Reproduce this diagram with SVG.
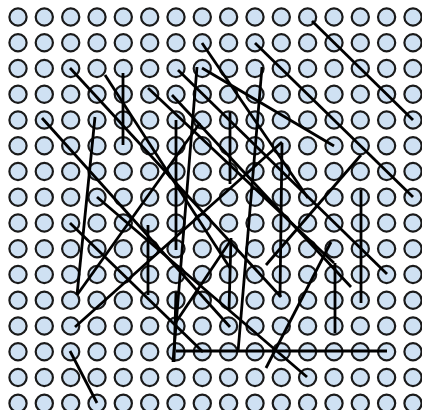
<svg xmlns="http://www.w3.org/2000/svg" width="422" height="410" viewBox="0 0 422 410">
<style>
.n circle{fill:#cfe1f3;stroke:#1a1a1a;stroke-width:2.2}
.e line{stroke:#000;stroke-width:2.8;stroke-linecap:butt}
</style>
<rect width="422" height="410" fill="#fff"/>
<g class="n">
<g id="r0c0"><circle cx="18" cy="17" r="8.6"/></g><g id="r0c1"><circle cx="44.3" cy="17" r="8.6"/></g><g id="r0c2"><circle cx="70.7" cy="17" r="8.6"/></g><g id="r0c3"><circle cx="97" cy="17" r="8.6"/></g><g id="r0c4"><circle cx="123.3" cy="17" r="8.6"/></g><g id="r0c5"><circle cx="149.7" cy="17" r="8.6"/></g><g id="r0c6"><circle cx="176" cy="17" r="8.6"/></g><g id="r0c7"><circle cx="202.3" cy="17" r="8.6"/></g><g id="r0c8"><circle cx="228.6" cy="17" r="8.6"/></g><g id="r0c9"><circle cx="255" cy="17" r="8.6"/></g><g id="r0c10"><circle cx="281.3" cy="17" r="8.6"/></g><g id="r0c11"><circle cx="307.6" cy="17" r="8.6"/></g><g id="r0c12"><circle cx="334" cy="17" r="8.6"/></g><g id="r0c13"><circle cx="360.3" cy="17" r="8.6"/></g><g id="r0c14"><circle cx="386.6" cy="17" r="8.6"/></g><g id="r0c15"><circle cx="413" cy="17" r="8.6"/></g>
<g id="r1c0"><circle cx="18" cy="42.75" r="8.6"/></g><g id="r1c1"><circle cx="44.3" cy="42.75" r="8.6"/></g><g id="r1c2"><circle cx="70.7" cy="42.75" r="8.6"/></g><g id="r1c3"><circle cx="97" cy="42.75" r="8.6"/></g><g id="r1c4"><circle cx="123.3" cy="42.75" r="8.6"/></g><g id="r1c5"><circle cx="149.7" cy="42.75" r="8.6"/></g><g id="r1c6"><circle cx="176" cy="42.75" r="8.6"/></g><g id="r1c7"><circle cx="202.3" cy="42.75" r="8.6"/></g><g id="r1c8"><circle cx="228.6" cy="42.75" r="8.6"/></g><g id="r1c9"><circle cx="255" cy="42.75" r="8.6"/></g><g id="r1c10"><circle cx="281.3" cy="42.75" r="8.6"/></g><g id="r1c11"><circle cx="307.6" cy="42.75" r="8.6"/></g><g id="r1c12"><circle cx="334" cy="42.75" r="8.6"/></g><g id="r1c13"><circle cx="360.3" cy="42.75" r="8.6"/></g><g id="r1c14"><circle cx="386.6" cy="42.75" r="8.6"/></g><g id="r1c15"><circle cx="413" cy="42.75" r="8.6"/></g>
<g id="r2c0"><circle cx="18" cy="68.5" r="8.6"/></g><g id="r2c1"><circle cx="44.3" cy="68.5" r="8.6"/></g><g id="r2c2"><circle cx="70.7" cy="68.5" r="8.6"/></g><g id="r2c3"><circle cx="97" cy="68.5" r="8.6"/></g><g id="r2c4"><circle cx="123.3" cy="68.5" r="8.6"/></g><g id="r2c5"><circle cx="149.7" cy="68.5" r="8.6"/></g><g id="r2c6"><circle cx="176" cy="68.5" r="8.6"/></g><g id="r2c7"><circle cx="202.3" cy="68.5" r="8.6"/></g><g id="r2c8"><circle cx="228.6" cy="68.5" r="8.6"/></g><g id="r2c9"><circle cx="255" cy="68.5" r="8.6"/></g><g id="r2c10"><circle cx="281.3" cy="68.5" r="8.6"/></g><g id="r2c11"><circle cx="307.6" cy="68.5" r="8.6"/></g><g id="r2c12"><circle cx="334" cy="68.5" r="8.6"/></g><g id="r2c13"><circle cx="360.3" cy="68.5" r="8.6"/></g><g id="r2c14"><circle cx="386.6" cy="68.5" r="8.6"/></g><g id="r2c15"><circle cx="413" cy="68.5" r="8.6"/></g>
<g id="r3c0"><circle cx="18" cy="94.25" r="8.6"/></g><g id="r3c1"><circle cx="44.3" cy="94.25" r="8.6"/></g><g id="r3c2"><circle cx="70.7" cy="94.25" r="8.6"/></g><g id="r3c3"><circle cx="97" cy="94.25" r="8.6"/></g><g id="r3c4"><circle cx="123.3" cy="94.25" r="8.6"/></g><g id="r3c5"><circle cx="149.7" cy="94.25" r="8.6"/></g><g id="r3c6"><circle cx="176" cy="94.25" r="8.6"/></g><g id="r3c7"><circle cx="202.3" cy="94.25" r="8.6"/></g><g id="r3c8"><circle cx="228.6" cy="94.25" r="8.6"/></g><g id="r3c9"><circle cx="255" cy="94.25" r="8.6"/></g><g id="r3c10"><circle cx="281.3" cy="94.25" r="8.6"/></g><g id="r3c11"><circle cx="307.6" cy="94.25" r="8.6"/></g><g id="r3c12"><circle cx="334" cy="94.25" r="8.6"/></g><g id="r3c13"><circle cx="360.3" cy="94.25" r="8.6"/></g><g id="r3c14"><circle cx="386.6" cy="94.25" r="8.6"/></g><g id="r3c15"><circle cx="413" cy="94.25" r="8.6"/></g>
<g id="r4c0"><circle cx="18" cy="120" r="8.6"/></g><g id="r4c1"><circle cx="44.3" cy="120" r="8.6"/></g><g id="r4c2"><circle cx="70.7" cy="120" r="8.6"/></g><g id="r4c3"><circle cx="97" cy="120" r="8.6"/></g><g id="r4c4"><circle cx="123.3" cy="120" r="8.6"/></g><g id="r4c5"><circle cx="149.7" cy="120" r="8.6"/></g><g id="r4c6"><circle cx="176" cy="120" r="8.6"/></g><g id="r4c7"><circle cx="202.3" cy="120" r="8.6"/></g><g id="r4c8"><circle cx="228.6" cy="120" r="8.6"/></g><g id="r4c9"><circle cx="255" cy="120" r="8.6"/></g><g id="r4c10"><circle cx="281.3" cy="120" r="8.6"/></g><g id="r4c11"><circle cx="307.6" cy="120" r="8.6"/></g><g id="r4c12"><circle cx="334" cy="120" r="8.6"/></g><g id="r4c13"><circle cx="360.3" cy="120" r="8.6"/></g><g id="r4c14"><circle cx="386.6" cy="120" r="8.6"/></g><g id="r4c15"><circle cx="413" cy="120" r="8.6"/></g>
<g id="r5c0"><circle cx="18" cy="145.75" r="8.6"/></g><g id="r5c1"><circle cx="44.3" cy="145.75" r="8.6"/></g><g id="r5c2"><circle cx="70.7" cy="145.75" r="8.6"/></g><g id="r5c3"><circle cx="97" cy="145.75" r="8.6"/></g><g id="r5c4"><circle cx="123.3" cy="145.75" r="8.6"/></g><g id="r5c5"><circle cx="149.7" cy="145.75" r="8.6"/></g><g id="r5c6"><circle cx="176" cy="145.75" r="8.6"/></g><g id="r5c7"><circle cx="202.3" cy="145.75" r="8.6"/></g><g id="r5c8"><circle cx="228.6" cy="145.75" r="8.6"/></g><g id="r5c9"><circle cx="255" cy="145.75" r="8.6"/></g><g id="r5c10"><circle cx="281.3" cy="145.75" r="8.6"/></g><g id="r5c11"><circle cx="307.6" cy="145.75" r="8.6"/></g><g id="r5c12"><circle cx="334" cy="145.75" r="8.6"/></g><g id="r5c13"><circle cx="360.3" cy="145.75" r="8.6"/></g><g id="r5c14"><circle cx="386.6" cy="145.75" r="8.6"/></g><g id="r5c15"><circle cx="413" cy="145.75" r="8.6"/></g>
<g id="r6c0"><circle cx="18" cy="171.5" r="8.6"/></g><g id="r6c1"><circle cx="44.3" cy="171.5" r="8.6"/></g><g id="r6c2"><circle cx="70.7" cy="171.5" r="8.6"/></g><g id="r6c3"><circle cx="97" cy="171.5" r="8.6"/></g><g id="r6c4"><circle cx="123.3" cy="171.5" r="8.6"/></g><g id="r6c5"><circle cx="149.7" cy="171.5" r="8.6"/></g><g id="r6c6"><circle cx="176" cy="171.5" r="8.6"/></g><g id="r6c7"><circle cx="202.3" cy="171.5" r="8.6"/></g><g id="r6c8"><circle cx="228.6" cy="171.5" r="8.6"/></g><g id="r6c9"><circle cx="255" cy="171.5" r="8.6"/></g><g id="r6c10"><circle cx="281.3" cy="171.5" r="8.6"/></g><g id="r6c11"><circle cx="307.6" cy="171.5" r="8.6"/></g><g id="r6c12"><circle cx="334" cy="171.5" r="8.6"/></g><g id="r6c13"><circle cx="360.3" cy="171.5" r="8.6"/></g><g id="r6c14"><circle cx="386.6" cy="171.5" r="8.6"/></g><g id="r6c15"><circle cx="413" cy="171.5" r="8.6"/></g>
<g id="r7c0"><circle cx="18" cy="197.25" r="8.6"/></g><g id="r7c1"><circle cx="44.3" cy="197.25" r="8.6"/></g><g id="r7c2"><circle cx="70.7" cy="197.25" r="8.6"/></g><g id="r7c3"><circle cx="97" cy="197.25" r="8.6"/></g><g id="r7c4"><circle cx="123.3" cy="197.25" r="8.6"/></g><g id="r7c5"><circle cx="149.7" cy="197.25" r="8.6"/></g><g id="r7c6"><circle cx="176" cy="197.25" r="8.6"/></g><g id="r7c7"><circle cx="202.3" cy="197.25" r="8.6"/></g><g id="r7c8"><circle cx="228.6" cy="197.25" r="8.6"/></g><g id="r7c9"><circle cx="255" cy="197.25" r="8.6"/></g><g id="r7c10"><circle cx="281.3" cy="197.25" r="8.6"/></g><g id="r7c11"><circle cx="307.6" cy="197.25" r="8.6"/></g><g id="r7c12"><circle cx="334" cy="197.25" r="8.6"/></g><g id="r7c13"><circle cx="360.3" cy="197.25" r="8.6"/></g><g id="r7c14"><circle cx="386.6" cy="197.25" r="8.6"/></g><g id="r7c15"><circle cx="413" cy="197.25" r="8.6"/></g>
<g id="r8c0"><circle cx="18" cy="223" r="8.6"/></g><g id="r8c1"><circle cx="44.3" cy="223" r="8.6"/></g><g id="r8c2"><circle cx="70.7" cy="223" r="8.6"/></g><g id="r8c3"><circle cx="97" cy="223" r="8.6"/></g><g id="r8c4"><circle cx="123.3" cy="223" r="8.6"/></g><g id="r8c5"><circle cx="149.7" cy="223" r="8.6"/></g><g id="r8c6"><circle cx="176" cy="223" r="8.6"/></g><g id="r8c7"><circle cx="202.3" cy="223" r="8.6"/></g><g id="r8c8"><circle cx="228.6" cy="223" r="8.6"/></g><g id="r8c9"><circle cx="255" cy="223" r="8.6"/></g><g id="r8c10"><circle cx="281.3" cy="223" r="8.6"/></g><g id="r8c11"><circle cx="307.6" cy="223" r="8.6"/></g><g id="r8c12"><circle cx="334" cy="223" r="8.6"/></g><g id="r8c13"><circle cx="360.3" cy="223" r="8.6"/></g><g id="r8c14"><circle cx="386.6" cy="223" r="8.6"/></g><g id="r8c15"><circle cx="413" cy="223" r="8.6"/></g>
<g id="r9c0"><circle cx="18" cy="248.75" r="8.6"/></g><g id="r9c1"><circle cx="44.3" cy="248.75" r="8.6"/></g><g id="r9c2"><circle cx="70.7" cy="248.75" r="8.6"/></g><g id="r9c3"><circle cx="97" cy="248.75" r="8.6"/></g><g id="r9c4"><circle cx="123.3" cy="248.75" r="8.6"/></g><g id="r9c5"><circle cx="149.7" cy="248.75" r="8.6"/></g><g id="r9c6"><circle cx="176" cy="248.75" r="8.6"/></g><g id="r9c7"><circle cx="202.3" cy="248.75" r="8.6"/></g><g id="r9c8"><circle cx="228.6" cy="248.75" r="8.6"/></g><g id="r9c9"><circle cx="255" cy="248.75" r="8.6"/></g><g id="r9c10"><circle cx="281.3" cy="248.75" r="8.6"/></g><g id="r9c11"><circle cx="307.6" cy="248.75" r="8.6"/></g><g id="r9c12"><circle cx="334" cy="248.75" r="8.6"/></g><g id="r9c13"><circle cx="360.3" cy="248.75" r="8.6"/></g><g id="r9c14"><circle cx="386.6" cy="248.75" r="8.6"/></g><g id="r9c15"><circle cx="413" cy="248.75" r="8.6"/></g>
<g id="r10c0"><circle cx="18" cy="274.5" r="8.6"/></g><g id="r10c1"><circle cx="44.3" cy="274.5" r="8.6"/></g><g id="r10c2"><circle cx="70.7" cy="274.5" r="8.6"/></g><g id="r10c3"><circle cx="97" cy="274.5" r="8.6"/></g><g id="r10c4"><circle cx="123.3" cy="274.5" r="8.6"/></g><g id="r10c5"><circle cx="149.7" cy="274.5" r="8.6"/></g><g id="r10c6"><circle cx="176" cy="274.5" r="8.6"/></g><g id="r10c7"><circle cx="202.3" cy="274.5" r="8.6"/></g><g id="r10c8"><circle cx="228.6" cy="274.5" r="8.6"/></g><g id="r10c9"><circle cx="255" cy="274.5" r="8.6"/></g><g id="r10c10"><circle cx="281.3" cy="274.5" r="8.6"/></g><g id="r10c11"><circle cx="307.6" cy="274.5" r="8.6"/></g><g id="r10c12"><circle cx="334" cy="274.5" r="8.6"/></g><g id="r10c13"><circle cx="360.3" cy="274.5" r="8.6"/></g><g id="r10c14"><circle cx="386.6" cy="274.5" r="8.6"/></g><g id="r10c15"><circle cx="413" cy="274.5" r="8.6"/></g>
<g id="r11c0"><circle cx="18" cy="300.25" r="8.6"/></g><g id="r11c1"><circle cx="44.3" cy="300.25" r="8.6"/></g><g id="r11c2"><circle cx="70.7" cy="300.25" r="8.6"/></g><g id="r11c3"><circle cx="97" cy="300.25" r="8.6"/></g><g id="r11c4"><circle cx="123.3" cy="300.25" r="8.6"/></g><g id="r11c5"><circle cx="149.7" cy="300.25" r="8.6"/></g><g id="r11c6"><circle cx="176" cy="300.25" r="8.6"/></g><g id="r11c7"><circle cx="202.3" cy="300.25" r="8.6"/></g><g id="r11c8"><circle cx="228.6" cy="300.25" r="8.6"/></g><g id="r11c9"><circle cx="255" cy="300.25" r="8.6"/></g><g id="r11c10"><circle cx="281.3" cy="300.25" r="8.6"/></g><g id="r11c11"><circle cx="307.6" cy="300.25" r="8.6"/></g><g id="r11c12"><circle cx="334" cy="300.25" r="8.6"/></g><g id="r11c13"><circle cx="360.3" cy="300.25" r="8.6"/></g><g id="r11c14"><circle cx="386.6" cy="300.25" r="8.6"/></g><g id="r11c15"><circle cx="413" cy="300.25" r="8.6"/></g>
<g id="r12c0"><circle cx="18" cy="326" r="8.6"/></g><g id="r12c1"><circle cx="44.3" cy="326" r="8.6"/></g><g id="r12c2"><circle cx="70.7" cy="326" r="8.6"/></g><g id="r12c3"><circle cx="97" cy="326" r="8.6"/></g><g id="r12c4"><circle cx="123.3" cy="326" r="8.6"/></g><g id="r12c5"><circle cx="149.7" cy="326" r="8.6"/></g><g id="r12c6"><circle cx="176" cy="326" r="8.6"/></g><g id="r12c7"><circle cx="202.3" cy="326" r="8.6"/></g><g id="r12c8"><circle cx="228.6" cy="326" r="8.6"/></g><g id="r12c9"><circle cx="255" cy="326" r="8.6"/></g><g id="r12c10"><circle cx="281.3" cy="326" r="8.6"/></g><g id="r12c11"><circle cx="307.6" cy="326" r="8.6"/></g><g id="r12c12"><circle cx="334" cy="326" r="8.6"/></g><g id="r12c13"><circle cx="360.3" cy="326" r="8.6"/></g><g id="r12c14"><circle cx="386.6" cy="326" r="8.6"/></g><g id="r12c15"><circle cx="413" cy="326" r="8.6"/></g>
<g id="r13c0"><circle cx="18" cy="351.75" r="8.6"/></g><g id="r13c1"><circle cx="44.3" cy="351.75" r="8.6"/></g><g id="r13c2"><circle cx="70.7" cy="351.75" r="8.6"/></g><g id="r13c3"><circle cx="97" cy="351.75" r="8.6"/></g><g id="r13c4"><circle cx="123.3" cy="351.75" r="8.6"/></g><g id="r13c5"><circle cx="149.7" cy="351.75" r="8.6"/></g><g id="r13c6"><circle cx="176" cy="351.75" r="8.6"/></g><g id="r13c7"><circle cx="202.3" cy="351.75" r="8.6"/></g><g id="r13c8"><circle cx="228.6" cy="351.75" r="8.6"/></g><g id="r13c9"><circle cx="255" cy="351.75" r="8.6"/></g><g id="r13c10"><circle cx="281.3" cy="351.75" r="8.6"/></g><g id="r13c11"><circle cx="307.6" cy="351.75" r="8.6"/></g><g id="r13c12"><circle cx="334" cy="351.75" r="8.6"/></g><g id="r13c13"><circle cx="360.3" cy="351.75" r="8.6"/></g><g id="r13c14"><circle cx="386.6" cy="351.75" r="8.6"/></g><g id="r13c15"><circle cx="413" cy="351.75" r="8.6"/></g>
<g id="r14c0"><circle cx="18" cy="377.5" r="8.6"/></g><g id="r14c1"><circle cx="44.3" cy="377.5" r="8.6"/></g><g id="r14c2"><circle cx="70.7" cy="377.5" r="8.6"/></g><g id="r14c3"><circle cx="97" cy="377.5" r="8.6"/></g><g id="r14c4"><circle cx="123.3" cy="377.5" r="8.6"/></g><g id="r14c5"><circle cx="149.7" cy="377.5" r="8.6"/></g><g id="r14c6"><circle cx="176" cy="377.5" r="8.6"/></g><g id="r14c7"><circle cx="202.3" cy="377.5" r="8.6"/></g><g id="r14c8"><circle cx="228.6" cy="377.5" r="8.6"/></g><g id="r14c9"><circle cx="255" cy="377.5" r="8.6"/></g><g id="r14c10"><circle cx="281.3" cy="377.5" r="8.6"/></g><g id="r14c11"><circle cx="307.6" cy="377.5" r="8.6"/></g><g id="r14c12"><circle cx="334" cy="377.5" r="8.6"/></g><g id="r14c13"><circle cx="360.3" cy="377.5" r="8.6"/></g><g id="r14c14"><circle cx="386.6" cy="377.5" r="8.6"/></g><g id="r14c15"><circle cx="413" cy="377.5" r="8.6"/></g>
<g id="r15c0"><circle cx="18" cy="403.25" r="8.6"/></g><g id="r15c1"><circle cx="44.3" cy="403.25" r="8.6"/></g><g id="r15c2"><circle cx="70.7" cy="403.25" r="8.6"/></g><g id="r15c3"><circle cx="97" cy="403.25" r="8.6"/></g><g id="r15c4"><circle cx="123.3" cy="403.25" r="8.6"/></g><g id="r15c5"><circle cx="149.7" cy="403.25" r="8.6"/></g><g id="r15c6"><circle cx="176" cy="403.25" r="8.6"/></g><g id="r15c7"><circle cx="202.3" cy="403.25" r="8.6"/></g><g id="r15c8"><circle cx="228.6" cy="403.25" r="8.6"/></g><g id="r15c9"><circle cx="255" cy="403.25" r="8.6"/></g><g id="r15c10"><circle cx="281.3" cy="403.25" r="8.6"/></g><g id="r15c11"><circle cx="307.6" cy="403.25" r="8.6"/></g><g id="r15c12"><circle cx="334" cy="403.25" r="8.6"/></g><g id="r15c13"><circle cx="360.3" cy="403.25" r="8.6"/></g><g id="r15c14"><circle cx="386.6" cy="403.25" r="8.6"/></g><g id="r15c15"><circle cx="413" cy="403.25" r="8.6"/></g>
</g>
<g id="connectors" class="e">
<line x1="255" y1="43" x2="413" y2="197"/>
<line x1="312" y1="21" x2="413" y2="120"/>
<line x1="202" y1="68" x2="334" y2="146"/>
<line x1="202" y1="43" x2="308" y2="198"/>
<line x1="178" y1="70" x2="387" y2="274"/>
<line x1="172" y1="95" x2="351" y2="287"/>
<line x1="148" y1="88" x2="334" y2="263"/>
<line x1="105" y1="75" x2="230" y2="268"/>
<line x1="70" y1="68" x2="281" y2="297"/>
<line x1="42" y1="118" x2="230" y2="327"/>
<line x1="123" y1="73" x2="123" y2="145"/>
<line x1="176" y1="120" x2="176" y2="250"/>
<line x1="230" y1="112" x2="230" y2="184"/>
<line x1="148" y1="225" x2="148" y2="295"/>
<line x1="231" y1="238" x2="229" y2="310"/>
<line x1="282" y1="143" x2="280" y2="297"/>
<line x1="361" y1="190" x2="361" y2="303"/>
<line x1="335" y1="263" x2="335" y2="333"/>
<line x1="197" y1="67" x2="173" y2="362"/>
<line x1="262" y1="67" x2="238" y2="352"/>
<line x1="95" y1="117" x2="77" y2="295"/>
<line x1="200" y1="123" x2="77" y2="295"/>
<line x1="75" y1="327" x2="282" y2="142"/>
<line x1="176" y1="351" x2="387" y2="351"/>
<line x1="70" y1="351" x2="97" y2="403"/>
<line x1="361" y1="155" x2="266" y2="265"/>
<line x1="331" y1="242" x2="266" y2="368"/>
<line x1="176" y1="292" x2="174" y2="362"/>
<line x1="70" y1="223" x2="203" y2="352"/>
<line x1="97" y1="197" x2="307" y2="377"/>
<line x1="176" y1="322" x2="231" y2="240"/>
</g>
</svg>
